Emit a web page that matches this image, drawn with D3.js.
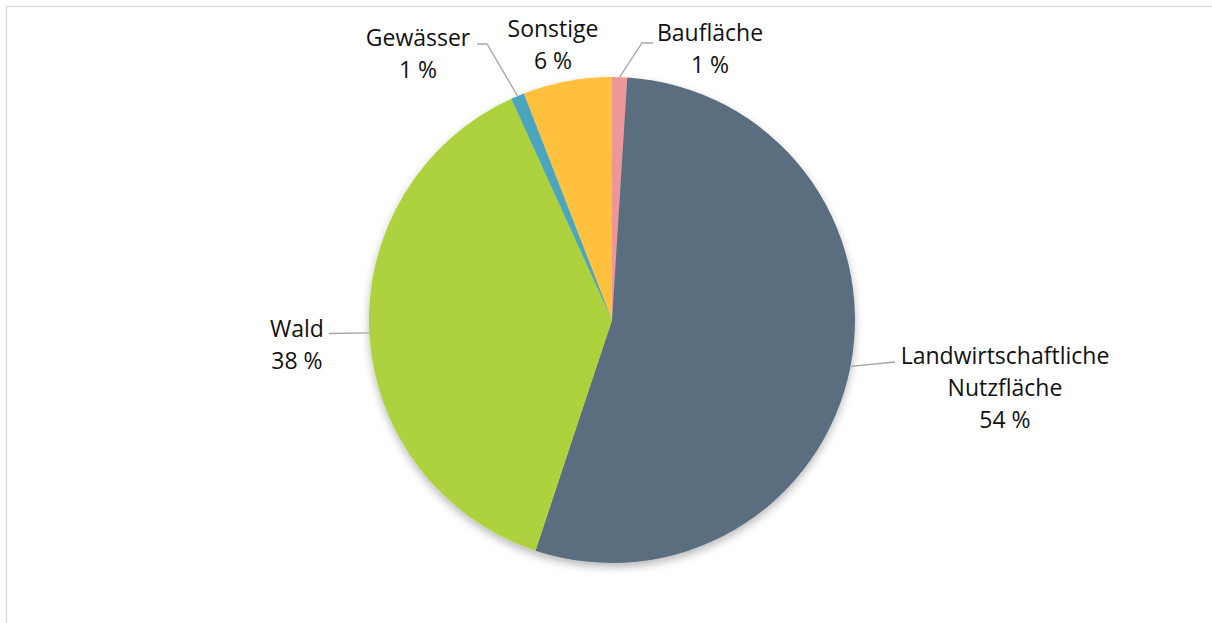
<!DOCTYPE html>
<html>
<head>
<meta charset="utf-8">
<script src="https://cdn.jsdelivr.net/npm/d3@7"></script>
<style>
  html, body { margin: 0; padding: 0; background: #fff; }
  svg { display: block; }
</style>
</head>
<body>
<svg id="chart" width="1212" height="623"></svg>
<script>
// Data (clockwise from 12 o'clock)
const categories = ["Baufläche", "Landwirtschaftliche Nutzfläche", "Wald", "Gewässer", "Sonstige"];
const values = [1.0, 54.1, 38.1, 0.9, 5.9];
const percentLabels = ["1 %", "54 %", "38 %", "1 %", "6 %"];
const labelLines = [["Baufläche"], ["Landwirtschaftliche", "Nutzfläche"], ["Wald"], ["Gewässer"], ["Sonstige"]];

const colors = ["#EE9698", "#5A6E80", "#ADD23D", "#4BA5BD", "#FFC03E"];

// Layout
const W = 1212, H = 623;
const cx = 612, cy = 320, R = 243;
const fontSize = 23, lineH = 32.3;
// label layout: text center x, first baseline y, leader elbow & end (null = no leader)
const labelLayout = [
  { x: 710, y: 40.5, elbow: [642, 43], end: [653, 43] },
  { x: 1005, y: 363.5, elbow: null, end: [895, 362] },
  { x: 297, y: 336.5, elbow: null, end: [329, 333.5] },
  { x: 418, y: 46, elbow: [487, 44], end: [477, 44] },
  { x: 553, y: 37, elbow: null, end: null }
];

const svg = d3.select("#chart");

// frame
svg.append("rect")
  .attr("x", 6.5).attr("y", 6.5)
  .attr("width", W + 20).attr("height", H + 20)
  .attr("fill", "#fff")
  .attr("stroke", "#d9d9d9").attr("stroke-width", 1.3);

const defs = svg.append("defs");
const f = defs.append("filter").attr("id", "shadow")
  .attr("x", "-20%").attr("y", "-20%").attr("width", "140%").attr("height", "140%");
f.append("feDropShadow").attr("dx", 0).attr("dy", 4).attr("stdDeviation", 4)
  .attr("flood-color", "#000").attr("flood-opacity", 0.28);

const pie = d3.pie().sort(null).value(d => d)(values);
const arc = d3.arc().innerRadius(0).outerRadius(R);

const g = svg.append("g").attr("transform", `translate(${cx},${cy})`);
g.append("g").attr("filter", "url(#shadow)")
  .selectAll("path")
  .data(pie)
  .join("path")
  .attr("d", arc)
  .attr("fill", (d, i) => colors[i]);

// leader lines
pie.forEach((d, i) => {
  const L = labelLayout[i];
  if (!L.end) return;
  const a = (d.startAngle + d.endAngle) / 2;
  const p0 = [cx + R * Math.sin(a), cy - R * Math.cos(a)];
  const pts = [p0];
  if (L.elbow) pts.push(L.elbow);
  pts.push(L.end);
  svg.append("path")
    .attr("d", d3.line()(pts))
    .attr("fill", "none")
    .attr("stroke", "#a6a6a6")
    .attr("stroke-width", 1.3);
});

// labels
labelLines.forEach((lines, i) => {
  const L = labelLayout[i];
  const t = svg.append("text")
    .attr("text-anchor", "middle")
    .attr("font-family", "'Open Sans', sans-serif")
    .attr("font-size", fontSize)
    .attr("fill", "#111");
  lines.concat([percentLabels[i]]).forEach((s, k) => {
    t.append("tspan").attr("x", L.x).attr("y", L.y + k * lineH).text(s);
  });
});
</script>
</body>
</html>
